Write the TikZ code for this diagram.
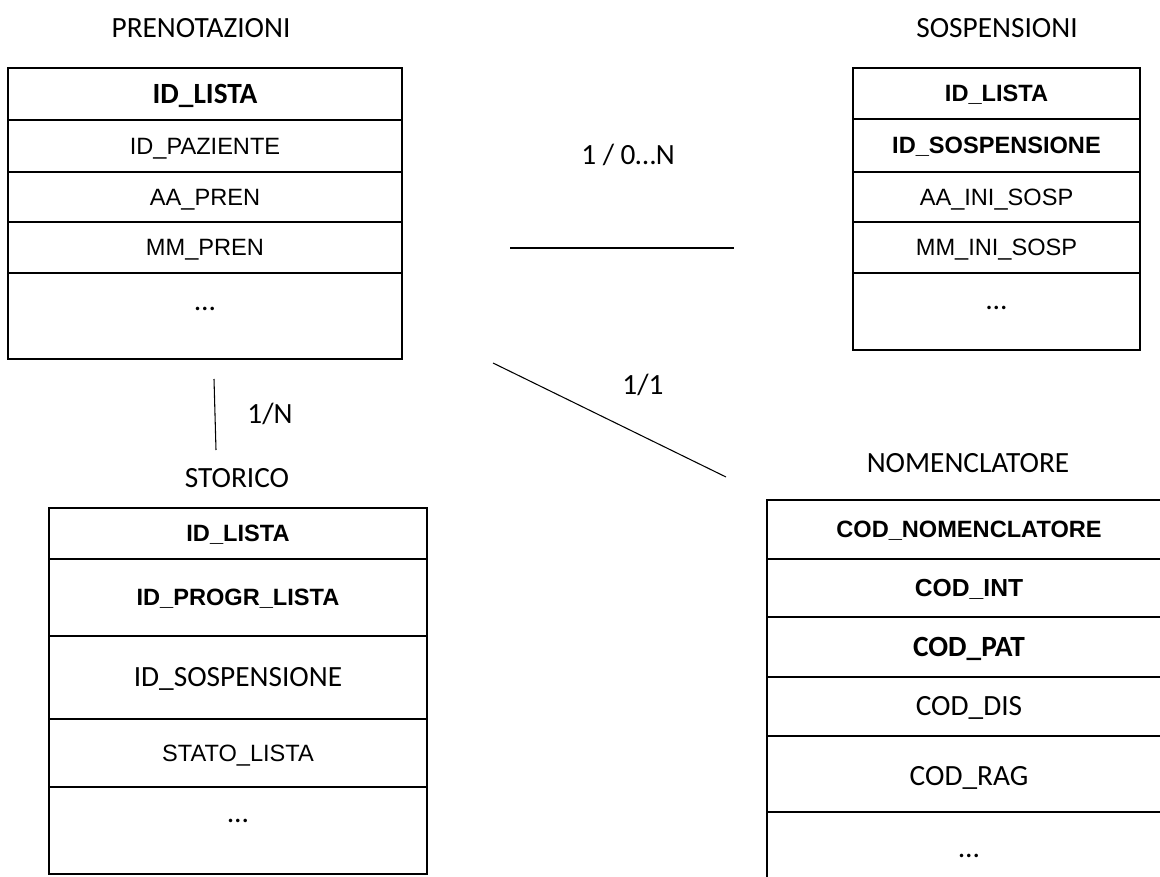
\documentclass[tikz,border=0pt]{standalone}
\usepackage{fontspec}
\setmainfont{Carlito}
\newfontfamily\arialfont{Liberation Sans}

\tikzset{
  tabella/.style={line width=1.4pt},
  legame/.style={line width=0.8pt},
  voce/.style={inner sep=0pt, text height=14.2pt, text depth=0pt},
  voceA/.style={inner sep=0pt, text height=12.7pt, text depth=0pt},
  titolo/.style={voce, font=\fontsize{22}{26}\selectfont},
  molt/.style={voce, font=\fontsize{22}{26}\selectfont},
  campo/.style={voceA, font=\arialfont\fontsize{17.7}{21}\selectfont},
  chiave/.style={voceA, font=\arialfont\bfseries\fontsize{17.7}{21}\selectfont},
  campoc/.style={voce, font=\fontsize{22}{26}\selectfont},
  chiavec/.style={voce, font=\bfseries\fontsize{22}{26}\selectfont}
}

\begin{document}
\begin{tikzpicture}[x=0.75pt, y=-0.75pt]
			\useasboundingbox (0,0) rectangle (1160,877);
			\clip (0,0) rectangle (1160,877);
			
			% PRENOTAZIONI
			\node[titolo] (tprenot) at (201,28) {PRENOTAZIONI};
			\draw[tabella] (8,68) rectangle (402,359);
			\foreach \y in {120,172,222,273}
				\draw[tabella] (8,\y) -- (402,\y);
			\node[chiavec] (pidlista) at (205,94) {ID\_LISTA};
			\node[campo] (pidpaz) at (205,146) {ID\_PAZIENTE};
			\node[campo] (paapren) at (205,197) {AA\_PREN};
			\node[campo] (pmmpren) at (205,247.5) {MM\_PREN};
			\node[campoc] (paltro) at (205,301) {…};
			
			% SOSPENSIONI
			\node[titolo] (tsosp) at (997,28) {SOSPENSIONI};
			\draw[tabella] (853,68) rectangle (1140,350);
			\foreach \y in {119,172,222,273}
				\draw[tabella] (853,\y) -- (1140,\y);
			\node[chiave] (sidlista) at (996.5,93.5) {ID\_LISTA};
			\node[chiave] (sidsosp) at (996.5,145.5) {ID\_SOSPENSIONE};
			\node[campo] (saaini) at (996.5,197) {AA\_INI\_SOSP};
			\node[campo] (smmini) at (996.5,247.5) {MM\_INI\_SOSP};
			\node[campoc] (saltro) at (996.5,300) {…};
			
			% STORICO
			\node[titolo] (tstorico) at (237,478) {STORICO};
			\draw[tabella] (49,508) rectangle (427,874);
			\foreach \y in {559,636,719,787}
				\draw[tabella] (49,\y) -- (427,\y);
			\node[chiave] (hidlista) at (238,533.5) {ID\_LISTA};
			\node[chiave] (hidprogr) at (238,597.5) {ID\_PROGR\_LISTA};
			\node[campoc] (hidsosp) at (238,677.5) {ID\_SOSPENSIONE};
			\node[campo] (hstato) at (238,753) {STATO\_LISTA};
			\node[campoc] (haltro) at (238,813) {…};
			
			% NOMENCLATORE
			\node[titolo] (tnomen) at (968,463) {NOMENCLATORE};
			\draw[tabella] (1171,900) -- (767,900) -- (767,500) -- (1171,500) -- cycle;
			\foreach \y in {559,617,677,736,812}
				\draw[tabella] (767,\y) -- (1171,\y);
			\node[chiave] (ncodnom) at (969,529.5) {COD\_NOMENCLATORE};
			\node[chiave, font=\arialfont\bfseries\fontsize{18.5}{22}\selectfont] (ncodint) at (969,588) {COD\_INT};
			\node[chiavec] (ncodpat) at (969,647) {COD\_PAT};
			\node[campoc] (ncoddis) at (969,706) {COD\_DIS};
			\node[campoc] (ncodrag) at (969,776) {COD\_RAG};
			\node[campoc] (naltro) at (969,848) {…};
			
			% legami
			\coordinate (ps1) at (510,248);
			\coordinate (ps2) at (734,248);
			\coordinate (ph1) at (214,379);
			\coordinate (ph2) at (216,450);
			\coordinate (pn1) at (493,363);
			\coordinate (pn2) at (726,477);
			\draw[legame] (ps1) -- (ps2);
			\draw[legame] (ph1) -- (ph2);
			\draw[legame] (pn1) -- (pn2);
			\node[molt] (mps) at (628,155) {1 / 0…N};
			\node[molt] (mph) at (270,414) {1/N};
			\node[molt] (mpn) at (643,385) {1/1};
			
		\end{tikzpicture}
\end{document}
